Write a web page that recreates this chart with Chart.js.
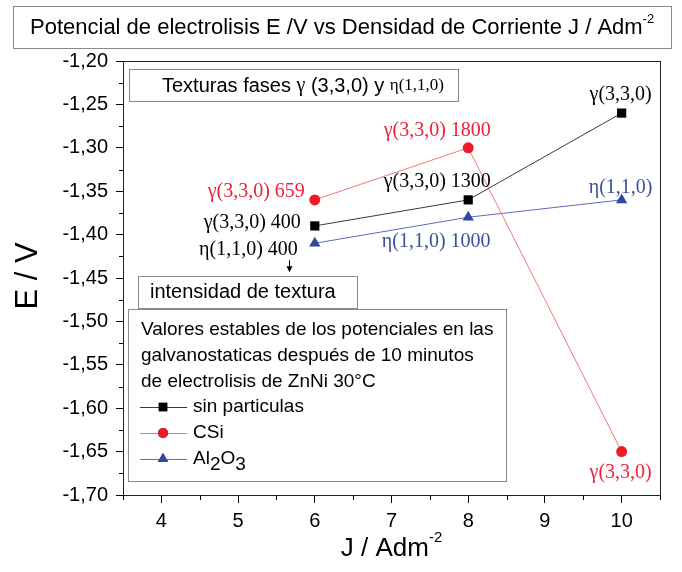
<!DOCTYPE html>
<html>
<head>
<meta charset="utf-8">
<script src="https://cdn.jsdelivr.net/npm/chart.js@4.4.0/dist/chart.umd.min.js"></script>
<style>
  html, body { margin: 0; padding: 0; background: #fff; }
  #wrap { width: 682px; height: 572px; }
</style>
</head>
<body>
<div id="wrap"><canvas id="chart" width="682" height="572"></canvas></div>
<script>
// J / Adm-2
const currentDensity = [6, 8, 10];
// E / V
const sinParticulas = [-1.39, -1.36, -1.26];
const csi = [-1.36, -1.30, -1.65];
const al2o3 = [-1.41, -1.38, -1.36];

// texture labels next to each point
const sinLabels = ['γ(3,3,0) 400', 'γ(3,3,0) 1300', 'γ(3,3,0)'];
const csiLabels = ['γ(3,3,0) 659', 'γ(3,3,0) 1800', 'γ(3,3,0)'];
const al2o3Labels = ['η(1,1,0) 400', 'η(1,1,0) 1000', 'η(1,1,0)'];

const xTicks = [4, 5, 6, 7, 8, 9, 10];
const yTicks = [-1.70, -1.65, -1.60, -1.55, -1.50, -1.45, -1.40, -1.35, -1.30, -1.25, -1.20];

const legendNote = [
  'Valores estables de los potenciales en las',
  'galvanostaticas después de 10 minutos',
  'de electrolisis de ZnNi 30°C'
];

const SANS = '"Liberation Sans", Arial, sans-serif';
const SERIF = '"Liberation Serif", "Times New Roman", serif';

// label placement relative to the point: [dx, dy, align, color]
const labelPlace = [
  [[-14, -3, 'right', '#000'], [-31, -18, 'center', '#000'], [-1, -18, 'center', '#000']],
  [[-10, -8, 'right', '#f0203a'], [-31, -17, 'center', '#f0203a'], [-1, 21, 'center', '#f0203a']],
  [[-17, 6, 'right', '#000'], [-32, 25, 'center', '#3b4f9e'], [-1, -12, 'center', '#3b4f9e']]
];

function pts(ys) {
  return currentDensity.map((x, i) => ({ x, y: ys[i] }));
}

function drawRuns(ctx, runs, x, y, align) {
  let total = 0;
  for (const r of runs) { ctx.font = r.font; total += ctx.measureText(r.text).width; }
  let cx = align === 'center' ? x - total / 2 : x;
  ctx.textAlign = 'left';
  ctx.textBaseline = 'middle';
  for (const r of runs) {
    ctx.font = r.font;
    ctx.fillText(r.text, cx, y + (r.dy || 0));
    cx += ctx.measureText(r.text).width;
  }
}

function box(ctx, x1, y1, x2, y2) {
  ctx.fillStyle = '#fff';
  ctx.fillRect(x1, y1, x2 - x1, y2 - y1);
  ctx.strokeStyle = '#8a8a8a';
  ctx.lineWidth = 1;
  ctx.strokeRect(x1 + 0.5, y1 + 0.5, x2 - x1, y2 - y1);
}

const decorations = {
  id: 'decorations',
  afterDraw(chart) {
    const ctx = chart.ctx;
    const { left, right, top, bottom } = chart.chartArea;
    const xs = chart.scales.x, ys = chart.scales.y;
    ctx.save();

    // frame
    ctx.strokeStyle = '#222';
    ctx.lineWidth = 1;
    ctx.strokeRect(left + 0.5, top + 0.5, right - left, bottom - top);

    // minor ticks
    ctx.strokeStyle = '#000';
    ctx.beginPath();
    for (let i = 0; i < yTicks.length - 1; i++) {
      const py = Math.round(ys.getPixelForValue((yTicks[i] + yTicks[i + 1]) / 2)) + 0.5;
      ctx.moveTo(left - 4, py); ctx.lineTo(left, py);
    }
    for (let v = 3.5; v <= 10.5; v += 1) {
      const px = Math.round(xs.getPixelForValue(v)) + 0.5;
      ctx.moveTo(px, bottom); ctx.lineTo(px, bottom + 5);
    }
    ctx.stroke();

    // point labels
    const labelSets = [sinLabels, csiLabels, al2o3Labels];
    const valueSets = [sinParticulas, csi, al2o3];
    ctx.font = '20px ' + SERIF;
    ctx.textBaseline = 'middle';
    labelSets.forEach((labels, s) => {
      labels.forEach((t, i) => {
        const [dx, dy, align, color] = labelPlace[s][i];
        const px = xs.getPixelForValue(currentDensity[i]);
        const py = ys.getPixelForValue(valueSets[s][i]);
        ctx.fillStyle = color;
        ctx.textAlign = align;
        ctx.fillText(t, px + dx, py + dy);
      });
    });

    // arrow under η(1,1,0) 400
    const ax = Math.round(xs.getPixelForValue(currentDensity[0])) - 26 + 0.5;
    const ay = ys.getPixelForValue(al2o3[0]);
    ctx.strokeStyle = '#000';
    ctx.fillStyle = '#000';
    ctx.beginPath();
    ctx.moveTo(ax, ay + 17); ctx.lineTo(ax, ay + 26);
    ctx.stroke();
    ctx.beginPath();
    ctx.moveTo(ax - 3, ay + 23); ctx.lineTo(ax + 3, ay + 23); ctx.lineTo(ax, ay + 29);
    ctx.closePath(); ctx.fill();

    // texture boxes
    box(ctx, 129, 69, 458, 101);
    ctx.fillStyle = '#000';
    drawRuns(ctx, [
      { text: 'Texturas fases ', font: '20px ' + SANS },
      { text: 'γ', font: '20px ' + SERIF },
      { text: ' (3,3,0) y ', font: '20px ' + SANS },
      { text: 'η(1,1,0)', font: '17px ' + SERIF }
    ], 303, 86, 'center');

    box(ctx, 138, 276, 357, 308);
    ctx.fillStyle = '#000';
    ctx.font = '20px ' + SANS;
    ctx.textAlign = 'left';
    ctx.fillText('intensidad de textura', 150, 292);

    // legend
    box(ctx, 128, 309, 506, 481);
    ctx.fillStyle = '#000';
    ctx.font = '19px ' + SANS;
    legendNote.forEach((t, i) => ctx.fillText(t, 141, 330 + i * 26));
    chart.data.datasets.forEach((ds, i) => {
      const ly = 407 + i * 26;
      ctx.strokeStyle = ds.borderColor;
      ctx.lineWidth = 1;
      ctx.beginPath();
      ctx.moveTo(140, ly + 0.5); ctx.lineTo(187, ly + 0.5);
      ctx.stroke();
      Chart.helpers.drawPoint(ctx, {
        pointStyle: ds.pointStyle, radius: ds.pointRadius - 0.5, rotation: 0, borderWidth: 0
      }, 163, ly);
      ctx.fillStyle = ds.pointBackgroundColor;
      ctx.fill();
      ctx.fillStyle = '#000';
      if (i === 2) {
        drawRuns(ctx, [
          { text: 'Al', font: '19px ' + SANS },
          { text: '2', font: '19px ' + SANS, dy: 6 },
          { text: 'O', font: '19px ' + SANS },
          { text: '3', font: '19px ' + SANS, dy: 6 }
        ], 193, ly, 'left');
      } else {
        ctx.font = '19px ' + SANS;
        ctx.textAlign = 'left';
        ctx.fillText(ds.label, 193, ly);
      }
    });

    // title box
    box(ctx, 13, 6, 671, 48);
    ctx.fillStyle = '#000';
    drawRuns(ctx, [
      { text: 'Potencial de electrolisis E /V vs Densidad de Corriente J / Adm', font: '22px ' + SANS },
      { text: '-2', font: '13px ' + SANS, dy: -9 }
    ], 30, 28, 'left');

    // axis titles
    drawRuns(ctx, [
      { text: 'J / Adm', font: '26px ' + SANS },
      { text: '-2', font: '15px ' + SANS, dy: -11 }
    ], (left + right) / 2, 549, 'center');

    ctx.translate(28, 276);
    ctx.rotate(-Math.PI / 2);
    ctx.font = '31px ' + SANS;
    ctx.textAlign = 'center';
    ctx.fillText('E / V', 0, 0);

    ctx.restore();
  }
};

new Chart(document.getElementById('chart'), {
  type: 'line',
  data: {
    datasets: [
      {
        label: 'sin particulas',
        data: pts(sinParticulas),
        borderColor: '#3a3a3a',
        borderWidth: 1,
        pointStyle: 'rect',
        pointRadius: 6.5,
        pointBackgroundColor: '#000',
        pointBorderWidth: 0
      },
      {
        label: 'CSi',
        data: pts(csi),
        borderColor: '#f27878',
        borderWidth: 1,
        pointStyle: 'circle',
        pointRadius: 5.5,
        pointBackgroundColor: '#ee1c2a',
        pointBorderWidth: 0
      },
      {
        label: 'Al2O3',
        data: pts(al2o3),
        borderColor: '#5a6cc0',
        borderWidth: 1,
        pointStyle: 'triangle',
        pointRadius: 6.5,
        pointBackgroundColor: '#2c4a9e',
        pointBorderWidth: 0
      }
    ]
  },
  options: {
    responsive: false,
    animation: false,
    layout: { padding: { left: 0, right: 22, top: 61, bottom: 0 } },
    plugins: { legend: { display: false }, tooltip: { enabled: false } },
    scales: {
      x: {
        type: 'linear',
        min: 3.5,
        max: 10.5,
        afterBuildTicks: s => { s.ticks = xTicks.map(v => ({ value: v })); },
        afterFit: s => { s.height = 77; },
        ticks: { font: { family: SANS, size: 20 }, color: '#000', padding: 6, maxRotation: 0, autoSkip: false },
        grid: { drawOnChartArea: false, drawTicks: true, tickLength: 8, color: '#000' },
        border: { display: true, color: '#000' }
      },
      y: {
        min: -1.70,
        max: -1.20,
        afterBuildTicks: s => { s.ticks = yTicks.map(v => ({ value: v })); },
        afterFit: s => { s.width = 123; },
        ticks: {
          font: { family: SANS, size: 20 }, color: '#000', padding: 8, autoSkip: false,
          callback: v => v.toFixed(2).replace('.', ',')
        },
        grid: { drawOnChartArea: false, drawTicks: true, tickLength: 7, color: '#000' },
        border: { display: true, color: '#000' }
      }
    }
  },
  plugins: [decorations]
});
</script>
</body>
</html>
